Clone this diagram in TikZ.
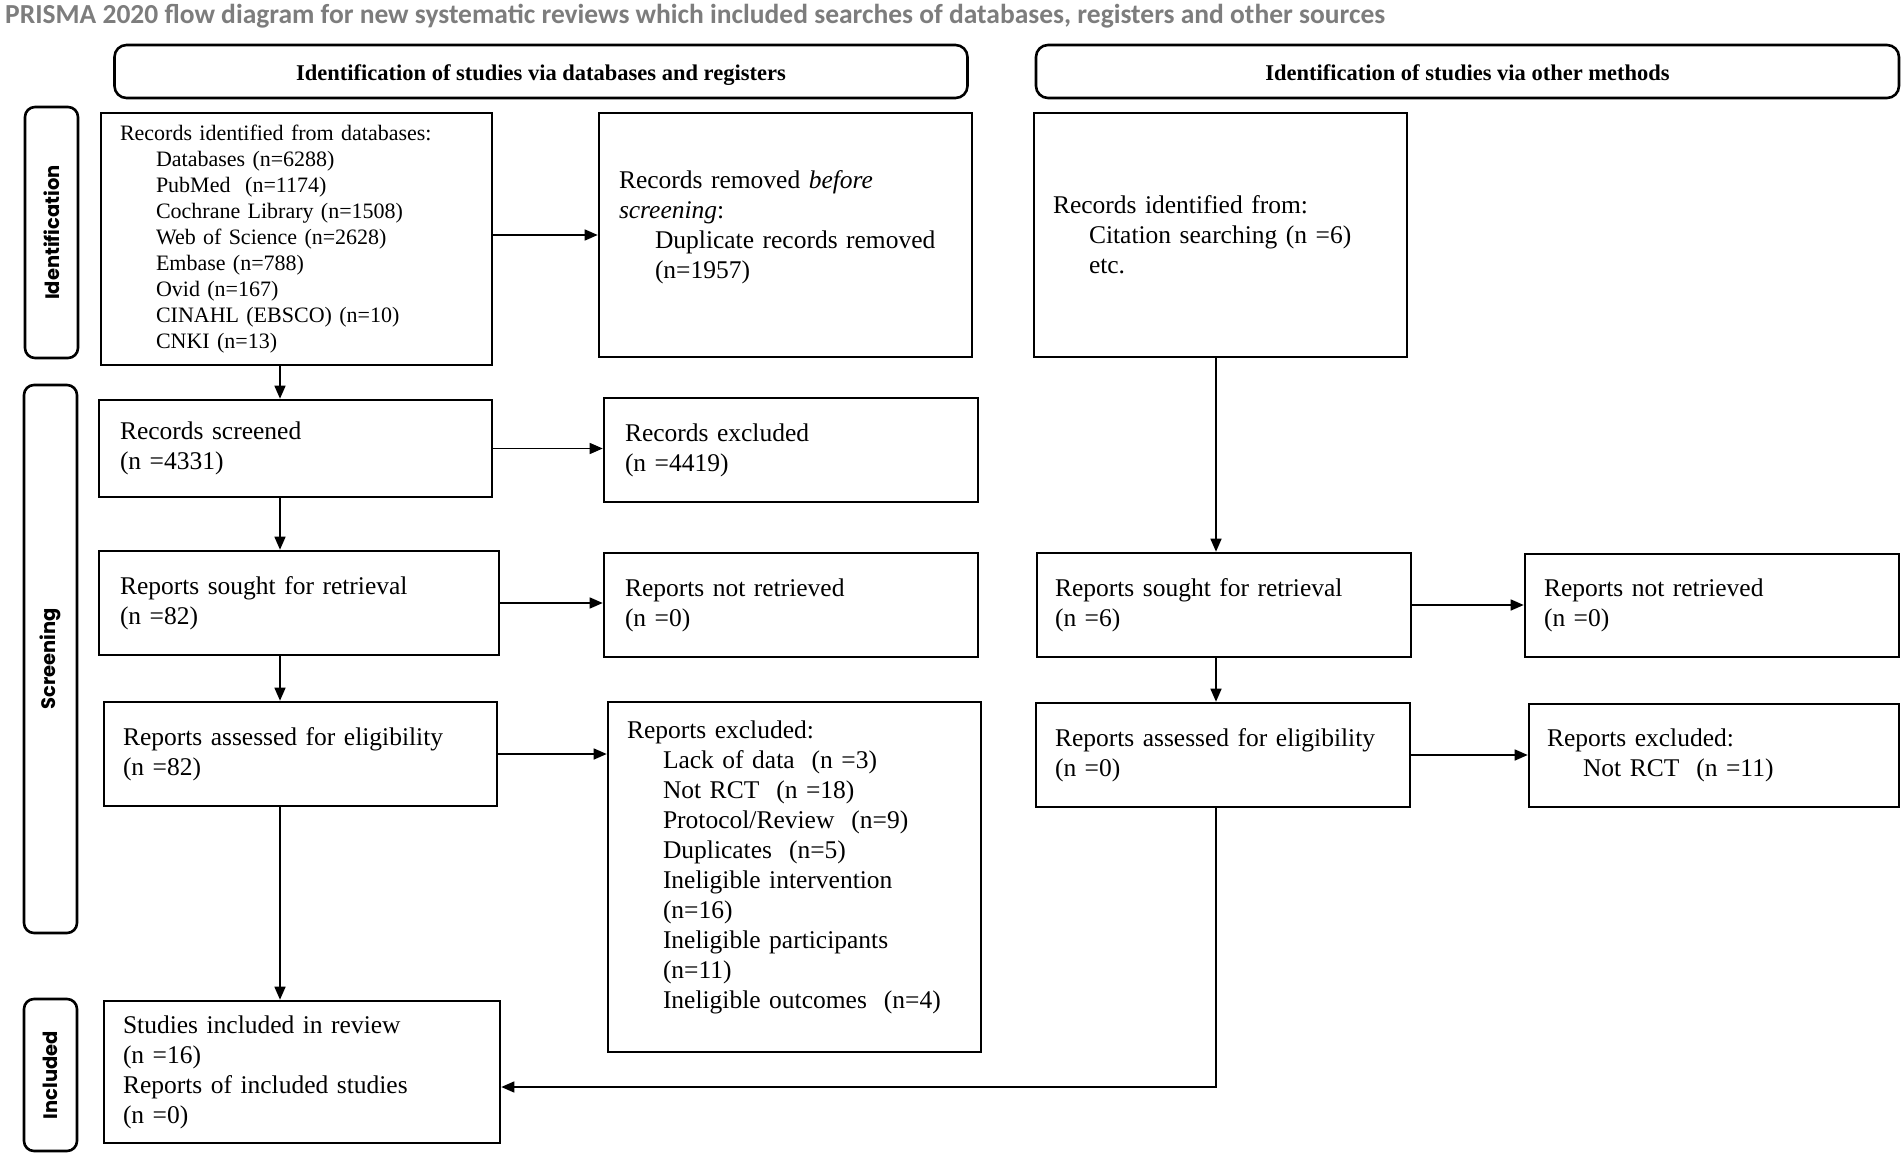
\documentclass[tikz,border=0pt]{standalone}
\usepackage{fontspec}
\setmainfont{Liberation Serif}
\newfontfamily\titlefont{Carlito}
\newfontfamily\sidefont{Poppins}
\usetikzlibrary{arrows.meta,calc}
\definecolor{titlegray}{RGB}{125,125,125}
\newcommand\ind{\hspace*{36pt}}
\begin{document}
\begin{tikzpicture}[x=1pt,y=-1pt,
  box/.style={draw, line width=2.6pt, inner sep=0pt, align=left, font=\fontsize{25.5}{30}\selectfont},
  arr/.style={line width=1.5pt, -{Triangle[length=13pt,width=11pt]}},
  hdr/.style={draw, line width=2.6pt, rounded corners=12pt, inner sep=0pt, text height=20pt, text depth=1pt, font=\fontsize{22.5}{26}\selectfont\bfseries},
  side/.style={draw, line width=2.6pt, rounded corners=10pt, inner sep=0pt, rotate=90, font=\fontsize{19.5}{22}\selectfont\sidefont\bfseries},
]
\useasboundingbox (0,0) rectangle (1904,1158);
\fill[white] (0,0) rectangle (1904,1158);

\node[anchor=base west, inner sep=0pt, text=titlegray, font=\fontsize{27.5}{32}\selectfont\titlefont\bfseries] (title) at (5,24)
  {PRISMA 2020 flow diagram for new systematic reviews which included searches of databases, registers and other sources};

% headers
\node[hdr, minimum width=853pt, minimum height=53pt] (hdr1) at (541,71.5) {Identification of studies via databases and registers};
\node[hdr, minimum width=863pt, minimum height=53pt] (hdr2) at (1467.5,71.5) {Identification of studies via other methods};

% side labels
\node[side, minimum width=251pt, minimum height=53pt] (sid1) at (51.5,232.5) {Identification};
\node[side, minimum width=548pt, minimum height=53pt] (sid2) at (50.5,659) {Screening};
\node[side, minimum width=152pt, minimum height=53pt] (sid3) at (50.5,1075) {Included};

% left column
\node[box, minimum width=391pt, minimum height=252pt, text width=353pt, font=\fontsize{22}{26}\selectfont] (id1) at (296.5,239)
  {Records identified from databases:\\
   \ind Databases (n=6288)\\
   \ind PubMed~~(n=1174)\\
   \ind Cochrane Library (n=1508)\\
   \ind Web of Science (n=2628)\\
   \ind Embase (n=788)\\
   \ind Ovid (n=167)\\
   \ind CINAHL (EBSCO) (n=10)\\
   \ind CNKI (n=13)};
\node[box, minimum width=373pt, minimum height=244pt, text width=333pt] (rem) at (785.5,235)
  {Records removed \textit{before}\\
   \textit{screening}:\\
   \ind Duplicate records removed\\
   \ind (n=1957)\\[-10pt]\mbox{}};
\node[box, minimum width=373pt, minimum height=244pt, text width=335pt] (oth) at (1220.5,235)
  {Records identified from:\\
   \ind Citation searching (n =6)\\
   \ind etc.};

\node[box, minimum width=393pt, minimum height=97pt, text width=351pt] (scr) at (295.5,448.5)
  {Records screened\\(n =4331)};
\node[box, minimum width=374pt, minimum height=104pt, text width=332pt] (exc) at (791,450)
  {Records excluded\\(n =4419)};

\node[box, minimum width=400pt, minimum height=104pt, text width=358pt] (sought) at (299,603)
  {Reports sought for retrieval\\(n =82)};
\node[box, minimum width=374pt, minimum height=104pt, text width=332pt] (notret) at (791,605)
  {Reports not retrieved\\(n =0)};

\node[box, minimum width=393pt, minimum height=104pt, text width=355pt] (assess) at (300.5,754)
  {Reports assessed for eligibility\\(n =82)};
\node[box, minimum width=373pt, minimum height=350pt, text width=335pt] (rexcl) at (794.5,877)
  {Reports excluded:\\
   \ind Lack of data~~(n =3)\\
   \ind Not RCT~~(n =18)\\
   \ind Protocol/Review~~(n=9)\\
   \ind Duplicates~~(n=5)\\
   \ind Ineligible intervention\\
   \ind (n=16)\\
   \ind Ineligible participants\\
   \ind (n=11)\\
   \ind Ineligible outcomes~~(n=4)\\[-6pt]\mbox{}};

\node[box, minimum width=396pt, minimum height=142pt, text width=358pt] (incl) at (302,1072)
  {Studies included in review\\(n =16)\\Reports of included studies\\(n =0)};

% right column
\node[box, minimum width=374pt, minimum height=104pt, text width=338pt] (sought2) at (1224,605)
  {Reports sought for retrieval\\(n =6)};
\node[box, minimum width=374pt, minimum height=103pt, text width=336pt] (notret2) at (1712,605.5)
  {Reports not retrieved\\(n =0)};
\node[box, minimum width=374pt, minimum height=104pt, text width=336pt] (assess2) at (1223,755)
  {Reports assessed for eligibility\\(n =0)};
\node[box, minimum width=370pt, minimum height=103pt, text width=334pt] (rexcl2) at (1714,755.5)
  {Reports excluded:\\
   \ind Not RCT~~(n =11)};

% connectors
\coordinate (colL) at (280,0);
\coordinate (colR) at (1216,0);
\coordinate (bend) at (1216,1087);

\draw[arr] (rem.west -| id1.east) -- (rem.west);
\draw[arr] (id1.south -| colL) -- (scr.north -| colL);
\draw[arr] (scr.east) -- (scr.east -| exc.west);
\draw[arr] (scr.south -| colL) -- (sought.north -| colL);
\draw[arr] (sought.east) -- (sought.east -| notret.west);
\draw[arr] (sought.south -| colL) -- (assess.north -| colL);
\draw[arr] (assess.east) -- (assess.east -| rexcl.west);
\draw[arr] (assess.south -| colL) -- (incl.north -| colL);

\draw[arr] (oth.south -| colR) -- (sought2.north -| colR);
\draw[arr] (sought2.east) -- (sought2.east -| notret2.west);
\draw[arr] (sought2.south -| colR) -- (assess2.north -| colR);
\draw[arr] (assess2.east) -- (assess2.east -| rexcl2.west);
\draw[arr] (assess2.south -| bend) -- (bend) -- (bend -| incl.east);
\end{tikzpicture}
\end{document}
